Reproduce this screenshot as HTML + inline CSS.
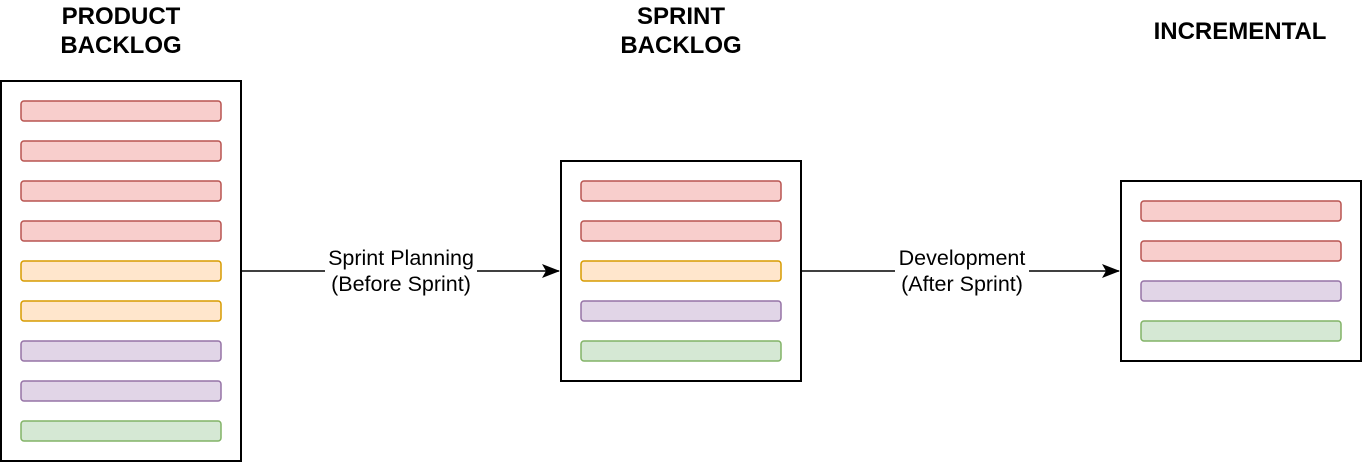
<!DOCTYPE html>
<html><head><meta charset="utf-8"><style>
body{margin:0;background:#fff;width:1362px;height:462px;overflow:hidden}
svg{display:block;font-family:"Liberation Sans",Arial,sans-serif}
</style></head><body>
<svg width="1362" height="462">
<defs><marker id="ah" markerWidth="18" markerHeight="14" refX="17" refY="7" orient="auto" markerUnits="userSpaceOnUse"><path d="M0,0 L18,7 L0,14 L4,7 Z" fill="#000"/></marker></defs>
<g font-weight="bold" font-size="24" text-anchor="middle" fill="#000">
<text x="121" y="24">PRODUCT<tspan x="121" dy="29">BACKLOG</tspan></text>
<text x="681" y="24">SPRINT<tspan x="681" dy="29">BACKLOG</tspan></text>
<text x="1240" y="39">INCREMENTAL</text>
</g>
<rect x="1" y="81" width="240" height="380" fill="#fff" stroke="#000" stroke-width="2"/>
<rect x="561" y="161" width="240" height="220" fill="#fff" stroke="#000" stroke-width="2"/>
<rect x="1121" y="181" width="240" height="180" fill="#fff" stroke="#000" stroke-width="2"/>
<g id="items"></g>
<line x1="242" y1="271" x2="559" y2="271" stroke="#000" stroke-width="1.5" marker-end="url(#ah)"/>
<line x1="802" y1="271" x2="1119" y2="271" stroke="#000" stroke-width="1.5" marker-end="url(#ah)"/>
<g font-size="21.5" text-anchor="middle" fill="#000">
<rect x="325" y="244" width="152" height="52" fill="#fff"/>
<text x="401" y="265">Sprint Planning<tspan x="401" dy="26">(Before Sprint)</tspan></text>
<rect x="895" y="244" width="134" height="52" fill="#fff"/>
<text x="962" y="265">Development<tspan x="962" dy="26">(After Sprint)</tspan></text>
</g>
</svg>
<script>
const C={r:['#f8cecc','#b85450'],o:['#ffe6cc','#d79b00'],p:['#e1d5e7','#9673a6'],g:['#d5e8d4','#82b366']};
const cols=[{x:21,y:101,items:'rrrrooppg'},{x:581,y:181,items:'rropg'},{x:1141,y:201,items:'rrpg'}];
const g=document.getElementById('items');
cols.forEach((c)=>{[...c.items].forEach((k,i)=>{
const r=document.createElementNS('http://www.w3.org/2000/svg','rect');


r.setAttribute('x',c.x);r.setAttribute('y',c.y+i*40);r.setAttribute('width',200);r.setAttribute('height',20);
r.setAttribute('rx',3);r.setAttribute('fill',C[k][0]);r.setAttribute('stroke',C[k][1]);r.setAttribute('stroke-width',1.5);
g.appendChild(r);});});
</script>
</body></html>
